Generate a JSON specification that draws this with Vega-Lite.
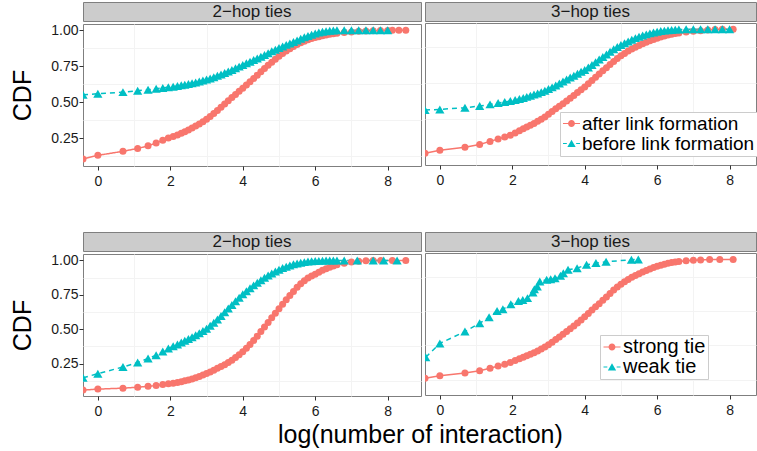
{
"$schema": "https://vega.github.io/schema/vega-lite/v6.json",
"background": "white",
"padding": {"left": 10, "top": 1, "right": 0, "bottom": 0},
"config": {
  "font": "Liberation Sans",
  "view": {"stroke": "#7F7F7F", "strokeWidth": 1},
  "axis": {"domain": false, "gridColor": "#E6E6E6", "gridWidth": 1, "tickColor": "#333333", "tickSize": 4, "labelFontSize": 14, "labelColor": "#1A1A1A", "labelFont": "Liberation Sans", "titleFont": "Liberation Sans", "titleFontWeight": "normal", "titleFontSize": 25, "titleColor": "#000000"}
},
"datasets": {
  "tl": [
    {"s":"a","x":-0.41,"y":0.107},{"s":"a","x":0,"y":0.132},{"s":"a","x":0.693,"y":0.16},{"s":"a","x":1.099,"y":0.18},{"s":"a","x":1.386,"y":0.198},{"s":"a","x":1.609,"y":0.218},{"s":"a","x":1.792,"y":0.236},{"s":"a","x":1.946,"y":0.252},{"s":"a","x":2.079,"y":0.262},{"s":"a","x":2.197,"y":0.273},{"s":"a","x":2.303,"y":0.285},{"s":"a","x":2.4,"y":0.296},{"s":"a","x":2.5,"y":0.308},{"s":"a","x":2.6,"y":0.321},{"s":"a","x":2.7,"y":0.335},{"s":"a","x":2.8,"y":0.35},{"s":"a","x":2.9,"y":0.366},{"s":"a","x":3.0,"y":0.383},{"s":"a","x":3.1,"y":0.402},{"s":"a","x":3.2,"y":0.422},{"s":"a","x":3.3,"y":0.444},{"s":"a","x":3.4,"y":0.466},{"s":"a","x":3.5,"y":0.489},{"s":"a","x":3.6,"y":0.511},{"s":"a","x":3.7,"y":0.533},{"s":"a","x":3.8,"y":0.555},{"s":"a","x":3.9,"y":0.577},{"s":"a","x":4.0,"y":0.598},{"s":"a","x":4.1,"y":0.62},{"s":"a","x":4.2,"y":0.643},{"s":"a","x":4.3,"y":0.666},{"s":"a","x":4.4,"y":0.689},{"s":"a","x":4.5,"y":0.712},{"s":"a","x":4.6,"y":0.735},{"s":"a","x":4.7,"y":0.758},{"s":"a","x":4.8,"y":0.779},{"s":"a","x":4.9,"y":0.8},{"s":"a","x":5.0,"y":0.82},{"s":"a","x":5.1,"y":0.839},{"s":"a","x":5.2,"y":0.857},{"s":"a","x":5.3,"y":0.873},{"s":"a","x":5.4,"y":0.888},{"s":"a","x":5.5,"y":0.902},{"s":"a","x":5.6,"y":0.914},{"s":"a","x":5.7,"y":0.925},{"s":"a","x":5.8,"y":0.935},{"s":"a","x":5.9,"y":0.943},{"s":"a","x":6.0,"y":0.95},{"s":"a","x":6.1,"y":0.956},{"s":"a","x":6.2,"y":0.962},{"s":"a","x":6.3,"y":0.967},{"s":"a","x":6.4,"y":0.972},{"s":"a","x":6.5,"y":0.976},{"s":"a","x":6.6,"y":0.979},{"s":"a","x":6.8,"y":0.985},{"s":"a","x":7.0,"y":0.989},{"s":"a","x":7.2,"y":0.993},{"s":"a","x":7.4,"y":0.995},{"s":"a","x":7.6,"y":0.997},{"s":"a","x":7.8,"y":0.998},{"s":"a","x":8.0,"y":0.999},{"s":"a","x":8.13,"y":1},{"s":"a","x":8.31,"y":1},{"s":"a","x":8.5,"y":1},
    {"s":"b","x":-0.41,"y":0.552},{"s":"b","x":0,"y":0.56},{"s":"b","x":0.693,"y":0.571},{"s":"b","x":1.099,"y":0.58},{"s":"b","x":1.386,"y":0.588},{"s":"b","x":1.609,"y":0.594},{"s":"b","x":1.792,"y":0.6},{"s":"b","x":1.946,"y":0.605},{"s":"b","x":2.079,"y":0.609},{"s":"b","x":2.197,"y":0.614},{"s":"b","x":2.303,"y":0.618},{"s":"b","x":2.4,"y":0.622},{"s":"b","x":2.5,"y":0.627},{"s":"b","x":2.6,"y":0.632},{"s":"b","x":2.7,"y":0.638},{"s":"b","x":2.8,"y":0.644},{"s":"b","x":2.9,"y":0.651},{"s":"b","x":3.0,"y":0.658},{"s":"b","x":3.1,"y":0.666},{"s":"b","x":3.2,"y":0.675},{"s":"b","x":3.3,"y":0.684},{"s":"b","x":3.4,"y":0.694},{"s":"b","x":3.5,"y":0.704},{"s":"b","x":3.6,"y":0.714},{"s":"b","x":3.7,"y":0.725},{"s":"b","x":3.8,"y":0.737},{"s":"b","x":3.9,"y":0.748},{"s":"b","x":4.0,"y":0.76},{"s":"b","x":4.1,"y":0.771},{"s":"b","x":4.2,"y":0.782},{"s":"b","x":4.3,"y":0.794},{"s":"b","x":4.4,"y":0.805},{"s":"b","x":4.5,"y":0.817},{"s":"b","x":4.6,"y":0.829},{"s":"b","x":4.7,"y":0.841},{"s":"b","x":4.8,"y":0.854},{"s":"b","x":4.9,"y":0.866},{"s":"b","x":5.0,"y":0.877},{"s":"b","x":5.1,"y":0.888},{"s":"b","x":5.2,"y":0.899},{"s":"b","x":5.3,"y":0.909},{"s":"b","x":5.4,"y":0.919},{"s":"b","x":5.5,"y":0.93},{"s":"b","x":5.6,"y":0.941},{"s":"b","x":5.7,"y":0.952},{"s":"b","x":5.8,"y":0.961},{"s":"b","x":5.9,"y":0.97},{"s":"b","x":6.0,"y":0.978},{"s":"b","x":6.1,"y":0.985},{"s":"b","x":6.2,"y":0.99},{"s":"b","x":6.3,"y":0.994},{"s":"b","x":6.4,"y":0.997},{"s":"b","x":6.5,"y":0.999},{"s":"b","x":6.6,"y":1},{"s":"b","x":6.8,"y":1},{"s":"b","x":7.0,"y":1},{"s":"b","x":7.2,"y":1},{"s":"b","x":7.4,"y":1},{"s":"b","x":7.6,"y":1},{"s":"b","x":7.8,"y":1},{"s":"b","x":8.0,"y":1}
  ],
  "tr": [
    {"s":"a","x":-0.41,"y":0.139},{"s":"a","x":0,"y":0.16},{"s":"a","x":0.693,"y":0.181},{"s":"a","x":1.099,"y":0.201},{"s":"a","x":1.386,"y":0.222},{"s":"a","x":1.609,"y":0.238},{"s":"a","x":1.792,"y":0.252},{"s":"a","x":1.946,"y":0.265},{"s":"a","x":2.079,"y":0.28},{"s":"a","x":2.197,"y":0.295},{"s":"a","x":2.303,"y":0.31},{"s":"a","x":2.4,"y":0.322},{"s":"a","x":2.5,"y":0.334},{"s":"a","x":2.6,"y":0.347},{"s":"a","x":2.7,"y":0.361},{"s":"a","x":2.8,"y":0.376},{"s":"a","x":2.9,"y":0.392},{"s":"a","x":3.0,"y":0.41},{"s":"a","x":3.1,"y":0.429},{"s":"a","x":3.2,"y":0.448},{"s":"a","x":3.3,"y":0.466},{"s":"a","x":3.4,"y":0.484},{"s":"a","x":3.5,"y":0.503},{"s":"a","x":3.6,"y":0.522},{"s":"a","x":3.7,"y":0.541},{"s":"a","x":3.8,"y":0.561},{"s":"a","x":3.9,"y":0.58},{"s":"a","x":4.0,"y":0.6},{"s":"a","x":4.1,"y":0.622},{"s":"a","x":4.2,"y":0.645},{"s":"a","x":4.3,"y":0.668},{"s":"a","x":4.4,"y":0.69},{"s":"a","x":4.5,"y":0.712},{"s":"a","x":4.6,"y":0.734},{"s":"a","x":4.7,"y":0.756},{"s":"a","x":4.8,"y":0.777},{"s":"a","x":4.9,"y":0.797},{"s":"a","x":5.0,"y":0.816},{"s":"a","x":5.1,"y":0.833},{"s":"a","x":5.2,"y":0.849},{"s":"a","x":5.3,"y":0.863},{"s":"a","x":5.4,"y":0.876},{"s":"a","x":5.5,"y":0.888},{"s":"a","x":5.6,"y":0.9},{"s":"a","x":5.7,"y":0.911},{"s":"a","x":5.8,"y":0.921},{"s":"a","x":5.9,"y":0.93},{"s":"a","x":6.0,"y":0.938},{"s":"a","x":6.1,"y":0.946},{"s":"a","x":6.2,"y":0.953},{"s":"a","x":6.3,"y":0.96},{"s":"a","x":6.4,"y":0.966},{"s":"a","x":6.5,"y":0.971},{"s":"a","x":6.6,"y":0.975},{"s":"a","x":6.8,"y":0.982},{"s":"a","x":7.0,"y":0.987},{"s":"a","x":7.2,"y":0.991},{"s":"a","x":7.4,"y":0.995},{"s":"a","x":7.6,"y":0.998},{"s":"a","x":7.8,"y":1},{"s":"a","x":8.1,"y":1},
    {"s":"b","x":-0.41,"y":0.44},{"s":"b","x":0,"y":0.444},{"s":"b","x":0.693,"y":0.456},{"s":"b","x":1.099,"y":0.467},{"s":"b","x":1.386,"y":0.479},{"s":"b","x":1.609,"y":0.488},{"s":"b","x":1.792,"y":0.495},{"s":"b","x":1.946,"y":0.502},{"s":"b","x":2.079,"y":0.509},{"s":"b","x":2.197,"y":0.516},{"s":"b","x":2.303,"y":0.524},{"s":"b","x":2.4,"y":0.531},{"s":"b","x":2.5,"y":0.539},{"s":"b","x":2.6,"y":0.547},{"s":"b","x":2.7,"y":0.555},{"s":"b","x":2.8,"y":0.564},{"s":"b","x":2.9,"y":0.574},{"s":"b","x":3.0,"y":0.585},{"s":"b","x":3.1,"y":0.597},{"s":"b","x":3.2,"y":0.61},{"s":"b","x":3.3,"y":0.624},{"s":"b","x":3.4,"y":0.638},{"s":"b","x":3.5,"y":0.652},{"s":"b","x":3.6,"y":0.666},{"s":"b","x":3.7,"y":0.678},{"s":"b","x":3.8,"y":0.692},{"s":"b","x":3.9,"y":0.705},{"s":"b","x":4.0,"y":0.718},{"s":"b","x":4.1,"y":0.735},{"s":"b","x":4.2,"y":0.753},{"s":"b","x":4.3,"y":0.772},{"s":"b","x":4.4,"y":0.79},{"s":"b","x":4.5,"y":0.808},{"s":"b","x":4.6,"y":0.826},{"s":"b","x":4.7,"y":0.844},{"s":"b","x":4.8,"y":0.862},{"s":"b","x":4.9,"y":0.877},{"s":"b","x":5.0,"y":0.891},{"s":"b","x":5.1,"y":0.904},{"s":"b","x":5.2,"y":0.916},{"s":"b","x":5.3,"y":0.928},{"s":"b","x":5.4,"y":0.939},{"s":"b","x":5.5,"y":0.948},{"s":"b","x":5.6,"y":0.957},{"s":"b","x":5.7,"y":0.965},{"s":"b","x":5.8,"y":0.972},{"s":"b","x":5.9,"y":0.978},{"s":"b","x":6.0,"y":0.983},{"s":"b","x":6.1,"y":0.988},{"s":"b","x":6.2,"y":0.991},{"s":"b","x":6.3,"y":0.994},{"s":"b","x":6.4,"y":0.996},{"s":"b","x":6.5,"y":0.998},{"s":"b","x":6.6,"y":0.999},{"s":"b","x":6.8,"y":1},{"s":"b","x":7.0,"y":1},{"s":"b","x":7.2,"y":1},{"s":"b","x":7.4,"y":1},{"s":"b","x":7.6,"y":1},{"s":"b","x":7.8,"y":1},{"s":"b","x":8.0,"y":1}
  ],
  "bl": [
    {"s":"s","x":-0.41,"y":0.058},{"s":"s","x":0,"y":0.065},{"s":"s","x":0.693,"y":0.072},{"s":"s","x":1.099,"y":0.079},{"s":"s","x":1.386,"y":0.085},{"s":"s","x":1.609,"y":0.091},{"s":"s","x":1.792,"y":0.098},{"s":"s","x":1.946,"y":0.104},{"s":"s","x":2.079,"y":0.108},{"s":"s","x":2.197,"y":0.113},{"s":"s","x":2.303,"y":0.119},{"s":"s","x":2.4,"y":0.125},{"s":"s","x":2.5,"y":0.132},{"s":"s","x":2.6,"y":0.139},{"s":"s","x":2.7,"y":0.147},{"s":"s","x":2.8,"y":0.157},{"s":"s","x":2.9,"y":0.167},{"s":"s","x":3.0,"y":0.178},{"s":"s","x":3.1,"y":0.19},{"s":"s","x":3.2,"y":0.203},{"s":"s","x":3.3,"y":0.216},{"s":"s","x":3.4,"y":0.229},{"s":"s","x":3.5,"y":0.243},{"s":"s","x":3.6,"y":0.258},{"s":"s","x":3.7,"y":0.275},{"s":"s","x":3.8,"y":0.294},{"s":"s","x":3.9,"y":0.314},{"s":"s","x":4.0,"y":0.336},{"s":"s","x":4.1,"y":0.362},{"s":"s","x":4.2,"y":0.39},{"s":"s","x":4.3,"y":0.419},{"s":"s","x":4.4,"y":0.45},{"s":"s","x":4.5,"y":0.483},{"s":"s","x":4.6,"y":0.516},{"s":"s","x":4.7,"y":0.549},{"s":"s","x":4.8,"y":0.583},{"s":"s","x":4.9,"y":0.616},{"s":"s","x":5.0,"y":0.649},{"s":"s","x":5.1,"y":0.682},{"s":"s","x":5.2,"y":0.714},{"s":"s","x":5.3,"y":0.745},{"s":"s","x":5.4,"y":0.775},{"s":"s","x":5.5,"y":0.805},{"s":"s","x":5.6,"y":0.83},{"s":"s","x":5.7,"y":0.853},{"s":"s","x":5.8,"y":0.872},{"s":"s","x":5.9,"y":0.887},{"s":"s","x":6.0,"y":0.9},{"s":"s","x":6.1,"y":0.915},{"s":"s","x":6.2,"y":0.928},{"s":"s","x":6.3,"y":0.94},{"s":"s","x":6.4,"y":0.951},{"s":"s","x":6.5,"y":0.96},{"s":"s","x":6.6,"y":0.968},{"s":"s","x":6.8,"y":0.98},{"s":"s","x":7.0,"y":0.988},{"s":"s","x":7.2,"y":0.995},{"s":"s","x":7.4,"y":0.998},{"s":"s","x":7.6,"y":1},{"s":"s","x":7.81,"y":1},{"s":"s","x":8.13,"y":1},{"s":"s","x":8.5,"y":1},
    {"s":"w","x":-0.41,"y":0.148},{"s":"w","x":0,"y":0.177},{"s":"w","x":0.693,"y":0.226},{"s":"w","x":1.099,"y":0.258},{"s":"w","x":1.386,"y":0.287},{"s":"w","x":1.609,"y":0.312},{"s":"w","x":1.792,"y":0.338},{"s":"w","x":1.946,"y":0.36},{"s":"w","x":2.079,"y":0.376},{"s":"w","x":2.197,"y":0.39},{"s":"w","x":2.303,"y":0.404},{"s":"w","x":2.4,"y":0.416},{"s":"w","x":2.5,"y":0.429},{"s":"w","x":2.6,"y":0.442},{"s":"w","x":2.7,"y":0.456},{"s":"w","x":2.8,"y":0.471},{"s":"w","x":2.9,"y":0.487},{"s":"w","x":3.0,"y":0.504},{"s":"w","x":3.1,"y":0.525},{"s":"w","x":3.2,"y":0.547},{"s":"w","x":3.3,"y":0.571},{"s":"w","x":3.4,"y":0.597},{"s":"w","x":3.5,"y":0.624},{"s":"w","x":3.6,"y":0.651},{"s":"w","x":3.7,"y":0.677},{"s":"w","x":3.8,"y":0.703},{"s":"w","x":3.9,"y":0.729},{"s":"w","x":4.0,"y":0.754},{"s":"w","x":4.1,"y":0.777},{"s":"w","x":4.2,"y":0.798},{"s":"w","x":4.3,"y":0.819},{"s":"w","x":4.4,"y":0.838},{"s":"w","x":4.5,"y":0.857},{"s":"w","x":4.6,"y":0.874},{"s":"w","x":4.7,"y":0.891},{"s":"w","x":4.8,"y":0.906},{"s":"w","x":4.9,"y":0.92},{"s":"w","x":5.0,"y":0.933},{"s":"w","x":5.1,"y":0.945},{"s":"w","x":5.2,"y":0.955},{"s":"w","x":5.3,"y":0.964},{"s":"w","x":5.4,"y":0.972},{"s":"w","x":5.5,"y":0.978},{"s":"w","x":5.6,"y":0.984},{"s":"w","x":5.7,"y":0.988},{"s":"w","x":5.8,"y":0.992},{"s":"w","x":5.9,"y":0.994},{"s":"w","x":6.0,"y":0.996},{"s":"w","x":6.1,"y":0.997},{"s":"w","x":6.2,"y":0.998},{"s":"w","x":6.3,"y":0.999},{"s":"w","x":6.4,"y":1},{"s":"w","x":6.5,"y":1},{"s":"w","x":6.6,"y":1},{"s":"w","x":6.8,"y":1},{"s":"w","x":7.16,"y":1},{"s":"w","x":7.6,"y":1},{"s":"w","x":7.89,"y":1},{"s":"w","x":8.26,"y":1}
  ],
  "br": [
    {"s":"s","x":-0.41,"y":0.136},{"s":"s","x":0,"y":0.155},{"s":"s","x":0.693,"y":0.175},{"s":"s","x":1.099,"y":0.192},{"s":"s","x":1.386,"y":0.21},{"s":"s","x":1.609,"y":0.226},{"s":"s","x":1.792,"y":0.238},{"s":"s","x":1.946,"y":0.252},{"s":"s","x":2.079,"y":0.265},{"s":"s","x":2.197,"y":0.278},{"s":"s","x":2.303,"y":0.29},{"s":"s","x":2.4,"y":0.3},{"s":"s","x":2.5,"y":0.311},{"s":"s","x":2.6,"y":0.322},{"s":"s","x":2.7,"y":0.335},{"s":"s","x":2.8,"y":0.349},{"s":"s","x":2.9,"y":0.364},{"s":"s","x":3.0,"y":0.381},{"s":"s","x":3.1,"y":0.399},{"s":"s","x":3.2,"y":0.418},{"s":"s","x":3.3,"y":0.437},{"s":"s","x":3.4,"y":0.457},{"s":"s","x":3.5,"y":0.477},{"s":"s","x":3.6,"y":0.497},{"s":"s","x":3.7,"y":0.517},{"s":"s","x":3.8,"y":0.538},{"s":"s","x":3.9,"y":0.56},{"s":"s","x":4.0,"y":0.584},{"s":"s","x":4.1,"y":0.608},{"s":"s","x":4.2,"y":0.632},{"s":"s","x":4.3,"y":0.656},{"s":"s","x":4.4,"y":0.679},{"s":"s","x":4.5,"y":0.703},{"s":"s","x":4.6,"y":0.728},{"s":"s","x":4.7,"y":0.753},{"s":"s","x":4.8,"y":0.778},{"s":"s","x":4.9,"y":0.8},{"s":"s","x":5.0,"y":0.82},{"s":"s","x":5.1,"y":0.838},{"s":"s","x":5.2,"y":0.855},{"s":"s","x":5.3,"y":0.87},{"s":"s","x":5.4,"y":0.884},{"s":"s","x":5.5,"y":0.897},{"s":"s","x":5.6,"y":0.909},{"s":"s","x":5.7,"y":0.92},{"s":"s","x":5.8,"y":0.931},{"s":"s","x":5.9,"y":0.941},{"s":"s","x":6.0,"y":0.95},{"s":"s","x":6.1,"y":0.958},{"s":"s","x":6.2,"y":0.966},{"s":"s","x":6.3,"y":0.972},{"s":"s","x":6.4,"y":0.978},{"s":"s","x":6.5,"y":0.982},{"s":"s","x":6.6,"y":0.986},{"s":"s","x":6.8,"y":0.991},{"s":"s","x":7.0,"y":0.995},{"s":"s","x":7.2,"y":0.997},{"s":"s","x":7.45,"y":1},{"s":"s","x":7.73,"y":1},{"s":"s","x":8.1,"y":1},
    {"s":"w","x":-0.39,"y":0.289},{"s":"w","x":0,"y":0.39},{"s":"w","x":0.693,"y":0.476},{"s":"w","x":1.099,"y":0.537},{"s":"w","x":1.36,"y":0.58},{"s":"w","x":1.58,"y":0.626},{"s":"w","x":1.74,"y":0.638},{"s":"w","x":1.96,"y":0.675},{"s":"w","x":2.17,"y":0.699},{"s":"w","x":2.29,"y":0.706},{"s":"w","x":2.42,"y":0.719},{"s":"w","x":2.57,"y":0.76},{"s":"w","x":2.61,"y":0.784},{"s":"w","x":2.69,"y":0.803},{"s":"w","x":2.76,"y":0.84},{"s":"w","x":2.95,"y":0.852},{"s":"w","x":3.06,"y":0.857},{"s":"w","x":3.18,"y":0.864},{"s":"w","x":3.33,"y":0.881},{"s":"w","x":3.41,"y":0.9},{"s":"w","x":3.54,"y":0.925},{"s":"w","x":3.79,"y":0.937},{"s":"w","x":4.05,"y":0.961},{"s":"w","x":4.31,"y":0.974},{"s":"w","x":4.59,"y":0.983},{"s":"w","x":5.29,"y":0.998},{"s":"w","x":5.48,"y":1}
  ]
},
"resolve": {"scale": {"color": "independent", "stroke": "independent", "strokeDash": "independent", "shape": "independent", "size": "independent"}},
"spacing": 42,
"vconcat": [
  {
    "spacing": 2,
    "resolve": {"scale": {"color": "independent", "stroke": "independent", "strokeDash": "independent", "shape": "independent", "size": "independent"}},
    "hconcat": [
      {
        "spacing": 0,
        "resolve": {"scale": {"color": "independent", "stroke": "independent", "strokeDash": "independent", "shape": "independent", "size": "independent"}},
        "vconcat": [
          {"width": 338, "height": 19, "view": {"fill": "#CCCCCC", "stroke": "#7F7F7F"}, "data": {"values": [{"p": "2−hop ties"}]}, "mark": {"type": "text", "fontSize": 17, "baseline": "middle", "color": "#1A1A1A"}, "encoding": {"text": {"field": "p"}}},
          {
            "width": 338, "height": 142, "data": {"name": "tl"},
            "resolve": {"axis": {"x": "independent", "y": "independent"}},
            "layer": [
              {"mark": {"type": "line", "clip": true, "strokeWidth": 1.5},
               "encoding": {
                 "x": {"field": "x", "type": "quantitative", "scale": {"domain": [-0.41, 8.92], "nice": false, "zero": false}, "axis": {"orient": "top", "values": [1, 3, 5, 7], "gridColor": "#F3F3F3", "labels": false, "ticks": false, "title": null}},
                 "y": {"field": "y", "type": "quantitative", "scale": {"domain": [0.058, 1.044], "nice": false, "zero": false}, "axis": {"orient": "right", "values": [0.125, 0.375, 0.625, 0.875], "gridColor": "#F3F3F3", "labels": false, "ticks": false, "title": null}},
                 "stroke": {"field": "s", "type": "nominal", "scale": {"domain": ["a", "b"], "range": ["#F8766D", "#00BFC4"]}, "legend": null},
                 "strokeDash": {"field": "s", "type": "nominal", "scale": {"domain": ["a", "b"], "range": [[1, 0], [5, 4]]}, "legend": null}
               }},
              {"mark": {"type": "point", "filled": true, "opacity": 1, "clip": true},
               "encoding": {
                 "x": {"field": "x", "type": "quantitative", "axis": {"orient": "bottom", "values": [0, 2, 4, 6, 8], "format": "d", "labelPadding": 4, "title": null}},
                 "y": {"field": "y", "type": "quantitative", "axis": {"orient": "left", "values": [0.25, 0.5, 0.75, 1], "format": ".2f", "labelPadding": 1, "title": "CDF", "titlePadding": 15}},
                 "color": {"field": "s", "type": "nominal", "scale": {"domain": ["a", "b"], "range": ["#F8766D", "#00BFC4"]}, "legend": null},
                 "shape": {"field": "s", "type": "nominal", "scale": {"domain": ["a", "b"], "range": ["circle", "triangle-up"]}, "legend": null},
                 "size": {"field": "s", "type": "nominal", "scale": {"domain": ["a", "b"], "range": [49, 85]}, "legend": null}
               }}
            ]
          }
        ]
      },
      {
        "spacing": 0,
        "resolve": {"scale": {"color": "independent", "stroke": "independent", "strokeDash": "independent", "shape": "independent", "size": "independent"}},
        "vconcat": [
          {"width": 331, "height": 19, "view": {"fill": "#CCCCCC", "stroke": "#7F7F7F"}, "data": {"values": [{"p": "3−hop ties"}]}, "mark": {"type": "text", "fontSize": 17, "baseline": "middle", "color": "#1A1A1A"}, "encoding": {"text": {"field": "p"}}},
          {
            "width": 331, "height": 142, "data": {"name": "tr"},
            "resolve": {"axis": {"x": "independent", "y": "independent"}},
            "layer": [
              {"transform": [{"filter": "datum.s == 'a'"}],
               "mark": {"type": "line", "clip": true, "strokeWidth": 1.5, "color": "#F8766D"},
               "encoding": {
                 "x": {"field": "x", "type": "quantitative", "scale": {"domain": [-0.41, 8.73], "nice": false, "zero": false}, "axis": {"orient": "top", "values": [1, 3, 5, 7], "gridColor": "#F3F3F3", "labels": false, "ticks": false, "title": null}},
                 "y": {"field": "y", "type": "quantitative", "scale": {"domain": [0.058, 1.044], "nice": false, "zero": false}, "axis": {"orient": "right", "values": [0.125, 0.375, 0.625, 0.875], "gridColor": "#F3F3F3", "labels": false, "ticks": false, "title": null}}
               }},
              {"transform": [{"filter": "datum.s == 'b'"}],
               "mark": {"type": "line", "clip": true, "strokeWidth": 1.5, "color": "#00BFC4", "strokeDash": [5, 4]},
               "encoding": {
                 "x": {"field": "x", "type": "quantitative", "axis": null},
                 "y": {"field": "y", "type": "quantitative", "axis": null}
               }},
              {"transform": [{"filter": "datum.s == 'a'"}],
               "mark": {"type": "point", "filled": true, "opacity": 1, "clip": true, "shape": "circle", "size": 49, "color": "#F8766D"},
               "encoding": {
                 "x": {"field": "x", "type": "quantitative", "axis": {"orient": "bottom", "values": [0, 2, 4, 6, 8], "format": "d", "labelPadding": 4, "title": null}},
                 "y": {"field": "y", "type": "quantitative", "axis": {"orient": "left", "values": [0.25, 0.5, 0.75, 1], "labels": false, "ticks": false, "title": null}}
               }},
              {"transform": [{"filter": "datum.s == 'b'"}],
               "mark": {"type": "point", "filled": true, "opacity": 1, "clip": true, "shape": "triangle-up", "size": 85, "color": "#00BFC4"},
               "encoding": {
                 "x": {"field": "x", "type": "quantitative", "axis": null},
                 "y": {"field": "y", "type": "quantitative", "axis": null}
               }},
              {"transform": [{"filter": "false"}],
               "mark": {"type": "point", "filled": true, "opacity": 1},
               "encoding": {
                 "color": {"field": "s", "type": "nominal", "scale": {"domain": ["a", "b"], "range": ["#F8766D", "#00BFC4"]},
                   "legend": {"orient": "none", "legendX": 135, "legendY": 89, "title": null, "labelFontSize": 19, "labelColor": "#000000", "labelFont": "Liberation Sans", "labelLimit": 400, "symbolSize": 289, "symbolStrokeWidth": 0, "strokeColor": "#CCCCCC", "fillColor": "#FFFFFF", "padding": 2, "rowPadding": -5, "labelOffset": 1,
                     "labelExpr": "datum.value == 'a' ? 'after link formation' : 'before link formation'"}},
                 "shape": {"field": "s", "type": "nominal", "scale": {"domain": ["a", "b"], "range": ["M-1,-0.07H1V0.07H-1Z M0.41,0A0.41,0.41,0,1,1,-0.41,0A0.41,0.41,0,1,1,0.41,0Z", "M-1,-0.07H-0.55V0.07H-1Z M0.55,-0.07H1V0.07H0.55Z M0,-0.45L0.49,0.4L-0.49,0.4Z"]}}
               }}
            ]
          }
        ]
      }
    ]
  },
  {
    "spacing": 2,
    "title": {"text": "log(number of interaction)", "orient": "bottom", "anchor": "middle", "fontSize": 25, "fontWeight": "normal", "font": "Liberation Sans", "color": "#000000", "offset": 4, "dx": 37},
    "resolve": {"scale": {"color": "independent", "stroke": "independent", "strokeDash": "independent", "shape": "independent", "size": "independent"}},
    "hconcat": [
      {
        "spacing": 0,
        "resolve": {"scale": {"color": "independent", "stroke": "independent", "strokeDash": "independent", "shape": "independent", "size": "independent"}},
        "vconcat": [
          {"width": 338, "height": 19, "view": {"fill": "#CCCCCC", "stroke": "#7F7F7F"}, "data": {"values": [{"p": "2−hop ties"}]}, "mark": {"type": "text", "fontSize": 17, "baseline": "middle", "color": "#1A1A1A"}, "encoding": {"text": {"field": "p"}}},
          {
            "width": 338, "height": 142, "data": {"name": "bl"},
            "resolve": {"axis": {"x": "independent", "y": "independent"}},
            "layer": [
              {"mark": {"type": "line", "clip": true, "strokeWidth": 1.5},
               "encoding": {
                 "x": {"field": "x", "type": "quantitative", "scale": {"domain": [-0.41, 8.92], "nice": false, "zero": false}, "axis": {"orient": "top", "values": [1, 3, 5, 7], "gridColor": "#F3F3F3", "labels": false, "ticks": false, "title": null}},
                 "y": {"field": "y", "type": "quantitative", "scale": {"domain": [0.015, 1.047], "nice": false, "zero": false}, "axis": {"orient": "right", "values": [0.125, 0.375, 0.625, 0.875], "gridColor": "#F3F3F3", "labels": false, "ticks": false, "title": null}},
                 "stroke": {"field": "s", "type": "nominal", "scale": {"domain": ["s", "w"], "range": ["#F8766D", "#00BFC4"]}, "legend": null},
                 "strokeDash": {"field": "s", "type": "nominal", "scale": {"domain": ["s", "w"], "range": [[1, 0], [5, 4]]}, "legend": null}
               }},
              {"mark": {"type": "point", "filled": true, "opacity": 1, "clip": true},
               "encoding": {
                 "x": {"field": "x", "type": "quantitative", "axis": {"orient": "bottom", "values": [0, 2, 4, 6, 8], "format": "d", "labelPadding": 4, "title": null}},
                 "y": {"field": "y", "type": "quantitative", "axis": {"orient": "left", "values": [0.25, 0.5, 0.75, 1], "format": ".2f", "labelPadding": 1, "title": "CDF", "titlePadding": 15}},
                 "color": {"field": "s", "type": "nominal", "scale": {"domain": ["s", "w"], "range": ["#F8766D", "#00BFC4"]}, "legend": null},
                 "shape": {"field": "s", "type": "nominal", "scale": {"domain": ["s", "w"], "range": ["circle", "triangle-up"]}, "legend": null},
                 "size": {"field": "s", "type": "nominal", "scale": {"domain": ["s", "w"], "range": [49, 85]}, "legend": null}
               }}
            ]
          }
        ]
      },
      {
        "spacing": 0,
        "resolve": {"scale": {"color": "independent", "stroke": "independent", "strokeDash": "independent", "shape": "independent", "size": "independent"}},
        "vconcat": [
          {"width": 331, "height": 19, "view": {"fill": "#CCCCCC", "stroke": "#7F7F7F"}, "data": {"values": [{"p": "3−hop ties"}]}, "mark": {"type": "text", "fontSize": 17, "baseline": "middle", "color": "#1A1A1A"}, "encoding": {"text": {"field": "p"}}},
          {
            "width": 331, "height": 142, "data": {"name": "br"},
            "resolve": {"axis": {"x": "independent", "y": "independent"}},
            "layer": [
              {"transform": [{"filter": "datum.s == 's'"}],
               "mark": {"type": "line", "clip": true, "strokeWidth": 1.5, "color": "#F8766D"},
               "encoding": {
                 "x": {"field": "x", "type": "quantitative", "scale": {"domain": [-0.41, 8.73], "nice": false, "zero": false}, "axis": {"orient": "top", "values": [1, 3, 5, 7], "gridColor": "#F3F3F3", "labels": false, "ticks": false, "title": null}},
                 "y": {"field": "y", "type": "quantitative", "scale": {"domain": [0.015, 1.047], "nice": false, "zero": false}, "axis": {"orient": "right", "values": [0.125, 0.375, 0.625, 0.875], "gridColor": "#F3F3F3", "labels": false, "ticks": false, "title": null}}
               }},
              {"transform": [{"filter": "datum.s == 'w'"}],
               "mark": {"type": "line", "clip": true, "strokeWidth": 1.5, "color": "#00BFC4", "strokeDash": [5, 4]},
               "encoding": {
                 "x": {"field": "x", "type": "quantitative", "axis": null},
                 "y": {"field": "y", "type": "quantitative", "axis": null}
               }},
              {"transform": [{"filter": "datum.s == 's'"}],
               "mark": {"type": "point", "filled": true, "opacity": 1, "clip": true, "shape": "circle", "size": 49, "color": "#F8766D"},
               "encoding": {
                 "x": {"field": "x", "type": "quantitative", "axis": {"orient": "bottom", "values": [0, 2, 4, 6, 8], "format": "d", "labelPadding": 4, "title": null}},
                 "y": {"field": "y", "type": "quantitative", "axis": {"orient": "left", "values": [0.25, 0.5, 0.75, 1], "labels": false, "ticks": false, "title": null}}
               }},
              {"transform": [{"filter": "datum.s == 'w'"}],
               "mark": {"type": "point", "filled": true, "opacity": 1, "clip": true, "shape": "triangle-up", "size": 85, "color": "#00BFC4"},
               "encoding": {
                 "x": {"field": "x", "type": "quantitative", "axis": null},
                 "y": {"field": "y", "type": "quantitative", "axis": null}
               }},
              {"transform": [{"filter": "false"}],
               "mark": {"type": "point", "filled": true, "opacity": 1},
               "encoding": {
                 "color": {"field": "s", "type": "nominal", "scale": {"domain": ["s", "w"], "range": ["#F8766D", "#00BFC4"]},
                   "legend": {"orient": "none", "legendX": 175, "legendY": 82, "title": null, "labelFontSize": 20, "labelColor": "#000000", "labelFont": "Liberation Sans", "labelLimit": 400, "symbolSize": 289, "symbolStrokeWidth": 0, "strokeColor": "#CCCCCC", "fillColor": "#FFFFFF", "padding": 2, "rowPadding": -9, "labelOffset": 1,
                     "labelExpr": "datum.value == 's' ? 'strong tie' : 'weak tie'"}},
                 "shape": {"field": "s", "type": "nominal", "scale": {"domain": ["s", "w"], "range": ["M-1,-0.07H1V0.07H-1Z M0.41,0A0.41,0.41,0,1,1,-0.41,0A0.41,0.41,0,1,1,0.41,0Z", "M-1,-0.07H-0.55V0.07H-1Z M0.55,-0.07H1V0.07H0.55Z M0,-0.45L0.49,0.4L-0.49,0.4Z"]}}
               }}
            ]
          }
        ]
      }
    ]
  }
]
}
